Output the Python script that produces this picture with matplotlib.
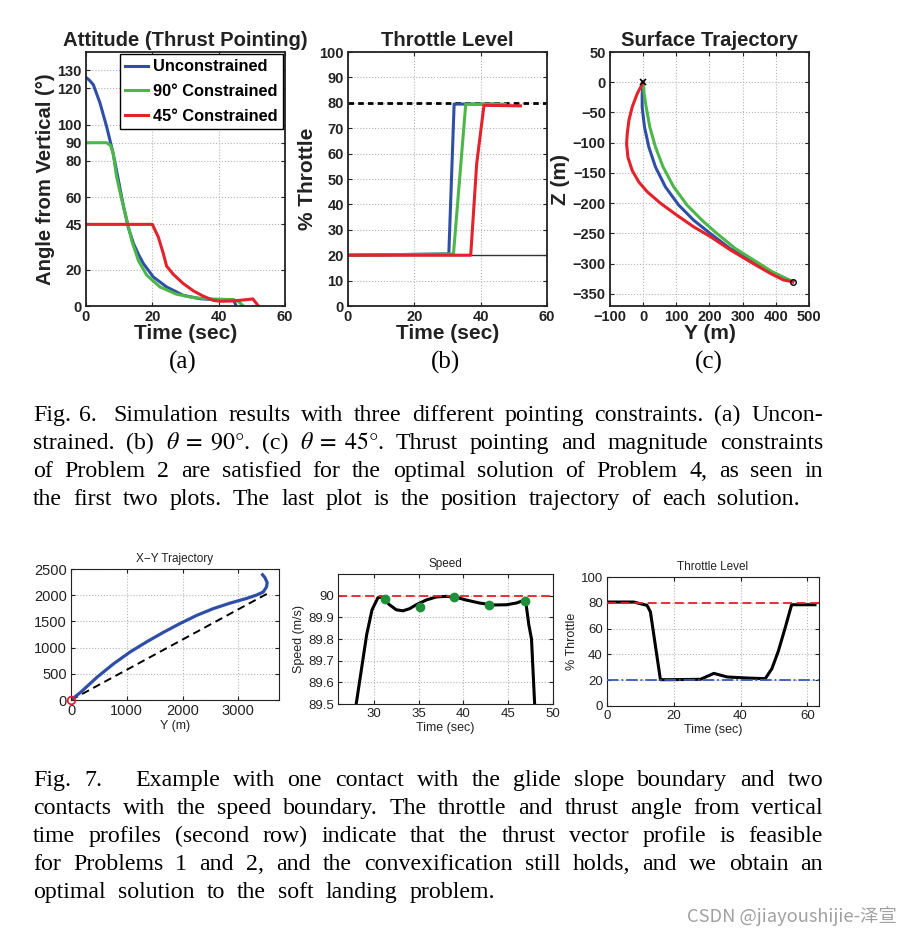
import numpy as np
import matplotlib
matplotlib.use("Agg")
import matplotlib.pyplot as plt

W, H = 912, 938
SANS = "Liberation Sans"
SERIF = "Liberation Serif"
plt.rcParams["mathtext.fontset"] = "stix"

BLUE = "#2f4fa6"
GREEN = "#4cb748"
RED = "#e3222b"

# ---- Fig. 6 (a) attitude, angle from vertical (deg) vs time (s)
t_unc = [0, 1, 2.2, 4.2, 6.2, 8.2, 9.7, 11.3, 12.8, 14.3, 15.8, 17.3, 20.3, 24.3, 29.3, 34.4, 38.4, 44.4, 45.3]
a_unc = [126, 124.5, 122, 112, 99, 84, 70, 55, 43, 34.5, 28.5, 23.4, 16, 10.5, 5.9, 4, 3.5, 3.5, 0]
t_90 = [0, 6.2, 7.4, 8.2, 9.2, 10.8, 12.3, 13.8, 15.8, 18.3, 22.3, 27.3, 32.4, 37.4, 44.4, 45.9, 47.4]
a_90 = [90, 90, 88.5, 84, 71.4, 58.5, 47.4, 36, 25, 17, 10.5, 6.5, 4.6, 3.9, 3.5, 2.6, 0]
t_45 = [0, 20, 21.8, 23.3, 24.3, 26.3, 29.3, 32.4, 35.4, 38.4, 40.4, 44.4, 48.4, 50.3, 52]
a_45 = [45, 45, 38, 29, 22, 17.5, 12.4, 8.3, 5.4, 3.1, 2.6, 2.8, 3.5, 3.9, 0]
att_ticks = [0, 20, 45, 60, 80, 90, 100, 120, 130]

# ---- Fig. 6 (b) throttle (%)
thr_t_unc = [0, 30.4, 32, 45]
thr_unc = [20, 20.5, 79.5, 79.5]
thr_t_90 = [0, 31.8, 35.5, 47.4]
thr_90 = [20, 20.5, 79.5, 79.5]
thr_t_45 = [0, 37, 38.8, 41, 52]
thr_45 = [20, 20, 56, 79, 78.8]

# ---- Fig. 6 (c) surface trajectory, Y (m) / Z (m)
y_unc = [0, -3, -3, 4, 17, 37, 67, 107, 152, 202, 262, 323, 383, 451]
z_unc = [0, -19, -41, -74, -107, -140, -173, -203, -228, -250, -275, -294, -313, -330]
y_90 = [0, 3, 9, 20, 37, 60, 92, 132, 177, 222, 278, 333, 388, 451]
z_90 = [0, -19, -41, -74, -107, -140, -173, -203, -228, -250, -275, -294, -313, -330]
y_45 = [0, -18, -33, -43, -48, -50, -46, -33, -13, 12, 52, 102, 152, 202, 262, 323, 383, 423, 451]
z_45 = [0, -19, -41, -63, -85, -102, -124, -146, -165, -181, -200, -220, -239, -255, -277, -297, -316, -327, -330]

# ---- Fig. 7 X-Y trajectory (m)
xy_y = [0, 167, 465, 763, 1061, 1359, 1658, 1956, 2254, 2552, 2850, 3148, 3327, 3447, 3506, 3518, 3476, 3435]
xy_x = [0, 142, 433, 691, 917, 1111, 1292, 1460, 1615, 1744, 1848, 1938, 2003, 2061, 2158, 2241, 2338, 2390]
glide_y = [0, 3520]
glide_x = [0, 2030]

# ---- Fig. 7 speed (m/s)
sp_t = [28.03, 28.58, 29.2, 29.8, 30.45, 30.8, 31.2, 31.75, 32.5, 33.24, 33.99, 34.73, 35.85, 36.96,
        38.1, 39.2, 40.3, 41.8, 43.3, 44.8, 45.9, 46.65, 46.95, 47.3, 47.6, 47.95]
sp_v = [89.5, 89.65, 89.82, 89.935, 89.99, 89.994, 89.98, 89.958, 89.935, 89.93, 89.94, 89.958, 89.98, 89.994,
        89.997, 89.992, 89.98, 89.966, 89.957, 89.958, 89.966, 89.977, 89.975, 89.866, 89.80, 89.5]
dot_t = [31.2, 35.1, 38.94, 42.85, 46.83]
dot_v = [89.985, 89.948, 89.994, 89.958, 89.977]

# ---- Fig. 7 throttle (%)
th_t = [0, 8, 12, 13, 16, 19, 28, 32, 36, 41.9, 47.4, 49.4, 51.3, 53.3, 55.3, 62.3]
th_v = [80.6, 80.6, 78, 73, 20.4, 20.4, 20.7, 25.3, 22.5, 21.7, 21.2, 29, 42.4, 60, 78.5, 78.5]

fig = plt.figure(figsize=(W / 100, H / 100), dpi=100)


def px_axes(x0, y0, x1, y1):
    return fig.add_axes([x0 / W, 1 - y1 / H, (x1 - x0) / W, (y1 - y0) / H])


def style(ax, bold, fs):
    ax.grid(True, linestyle=":", color="#b5b5b5", linewidth=0.8)
    ax.set_axisbelow(True)
    ax.tick_params(direction="in", top=True, right=True, labelsize=fs, pad=3,
                   length=3, colors="#222222")
    for s in ax.spines.values():
        s.set_linewidth(1.3 if bold else 0.8)
        s.set_color("#222222")
    for lab in ax.get_xticklabels() + ax.get_yticklabels():
        lab.set_family(SANS)
        if bold:
            lab.set_fontweight("bold")


top_kw = dict(family=SANS, fontweight="bold", color="#222222")

# (a)
ax = px_axes(86, 52, 285, 306)
ax.plot(t_unc, a_unc, color=BLUE, lw=2.2, label="Unconstrained")
ax.plot(t_90, a_90, color=GREEN, lw=2.2, label="90° Constrained")
ax.plot(t_45, a_45, color=RED, lw=2.2, label="45° Constrained")
ax.set_xlim(0, 60)
ax.set_ylim(0, 140)
ax.set_xticks([0, 20, 40, 60])
ax.set_yticks(att_ticks)
style(ax, True, 10.5)
ax.set_title("Attitude (Thrust Pointing)", fontsize=14.6, pad=4, **top_kw)
ax.set_xlabel("Time (sec)", fontsize=15, labelpad=0, **top_kw)
ax.set_ylabel("Angle from Vertical (°)", fontsize=14.6, labelpad=2, **top_kw)
leg = ax.legend(loc="upper right", bbox_to_anchor=(1.0, 1.0), borderaxespad=0.15,
                prop=dict(family=SANS, weight="bold", size=11.8), handlelength=1.4,
                handletextpad=0.3, labelspacing=0.6, fancybox=False, framealpha=1,
                borderpad=0.3)
leg.get_frame().set_edgecolor("black")
leg.get_frame().set_linewidth(1.0)

# (b)
ax = px_axes(348, 52, 547, 306)
ax.axhline(20, color="#333333", lw=1.0, zorder=1.5)
ax.axhline(80, color="black", lw=2, linestyle=(0, (2, 1.5)), zorder=1.6)
ax.plot(thr_t_unc, thr_unc, color=BLUE, lw=2.2)
ax.plot(thr_t_90, thr_90, color=GREEN, lw=2.2)
ax.plot(thr_t_45, thr_45, color=RED, lw=2.2)
ax.set_xlim(0, 60)
ax.set_ylim(0, 100)
ax.set_xticks([0, 20, 40, 60])
ax.set_yticks(range(0, 101, 10))
style(ax, True, 10.5)
ax.set_title("Throttle Level", fontsize=14.6, pad=4, **top_kw)
ax.set_xlabel("Time (sec)", fontsize=15, labelpad=0, **top_kw)
ax.set_ylabel("% Throttle", fontsize=15, labelpad=2, **top_kw)

# (c)
ax = px_axes(610, 52, 809, 306)
ax.plot(y_unc, z_unc, color=BLUE, lw=2.2)
ax.plot(y_90, z_90, color=GREEN, lw=2.2)
ax.plot(y_45, z_45, color=RED, lw=2.2)
ax.plot([0], [0], "x", color="black", ms=4, mew=1.2)
ax.plot([y_45[-1]], [z_45[-1]], "o", mfc="none", mec="black", ms=4, mew=1.0)
ax.set_xlim(-100, 500)
ax.set_ylim(-370, 50)
ax.set_xticks(range(-100, 501, 100))
ax.set_yticks(range(-350, 51, 50))
style(ax, True, 10.5)
ax.set_title("Surface Trajectory", fontsize=14.6, pad=4, **top_kw)
ax.set_xlabel("Y (m)", fontsize=15, labelpad=0, **top_kw)
ax.set_ylabel("Z (m)", fontsize=15, labelpad=2, **top_kw)

for lab, xc in [("(a)", 183), ("(b)", 446), ("(c)", 709)]:
    fig.text(xc / W, 1 - 362 / H, lab, family=SERIF, fontsize=18, ha="center", va="center")

bot_kw = dict(family=SANS, color="#222222")

# X-Y trajectory
ax = px_axes(71, 569, 279, 700)
ax.plot(glide_y, glide_x, color="black", lw=1.4, linestyle=(0, (4, 2.5)))
ax.plot(xy_y, xy_x, color=BLUE, lw=2.3)
ax.plot([0], [0], "o", mfc="none", mec=RED, ms=5.5, mew=1.3, clip_on=False, zorder=5)
ax.set_xlim(0, 3730)
ax.set_ylim(0, 2500)
ax.set_xticks([0, 1000, 2000, 3000])
ax.set_yticks(range(0, 2501, 500))
style(ax, False, 10.5)
ax.set_title("X−Y Trajectory", fontsize=8.5, pad=5, **bot_kw)
ax.set_xlabel("Y (m)", fontsize=9, labelpad=1, **bot_kw)

# Speed
ax = px_axes(338, 574, 553, 704)
ax.plot(sp_t, sp_v, color="black", lw=2.2)
ax.axhline(90, color=RED, lw=1.3, linestyle=(0, (5, 2.5)))
ax.plot(dot_t, dot_v, "o", color="#1e8f3a", ms=6, zorder=4)
ax.set_xlim(26, 50)
ax.set_ylim(89.5, 90.1)
ax.set_xticks([30, 35, 40, 45, 50])
ax.set_yticks([89.5, 89.6, 89.7, 89.8, 89.9, 90])
ax.set_yticklabels(["89.5", "89.6", "89.7", "89.8", "89.9", "90"])
style(ax, False, 9.5)
ax.set_title("Speed", fontsize=8.5, pad=5, **bot_kw)
ax.set_xlabel("Time (sec)", fontsize=9, labelpad=1, **bot_kw)
ax.set_ylabel("Speed (m/s)", fontsize=9, labelpad=2, **bot_kw)

# Throttle
ax = px_axes(607, 577, 819, 706)
ax.plot(th_t, th_v, color="black", lw=2.2)
ax.axhline(80, color=RED, lw=1.3, linestyle=(0, (5, 2.5)), zorder=3)
ax.axhline(20, color="#3a5bb5", lw=1.3, linestyle="-.", zorder=3)
ax.set_xlim(0, 63.5)
ax.set_ylim(0, 100)
ax.set_xticks([0, 20, 40, 60])
ax.set_yticks(range(0, 101, 20))
style(ax, False, 9.5)
ax.set_title("Throttle Level", fontsize=8.5, pad=5, **bot_kw)
ax.set_xlabel("Time (sec)", fontsize=9, labelpad=1, **bot_kw)
ax.set_ylabel("% Throttle", fontsize=9, labelpad=2, **bot_kw)

# ---- captions
CAP_FS = 17.2
renderer = fig.canvas.get_renderer()


def justify(words, x0, x1, y, extra=None):
    extra = extra or {}
    txts = [fig.text(0, 1 - y / H, w, family=SERIF, fontsize=CAP_FS, va="baseline") for w in words]
    ws = [t.get_window_extent(renderer).width for t in txts]
    gap = (x1 - x0 - sum(ws) - sum(extra.values())) / (len(words) - 1)
    x = x0
    for i, (t, w) in enumerate(zip(txts, ws)):
        t.set_x(x / W)
        x += w + gap + extra.get(i, 0)


XL, XR = 33, 823
justify(["Fig.", "6."] + "Simulation results with three different pointing constraints. (a) Uncon-".split(),
        XL, XR, 421, extra={0: -3, 1: 6})
justify(["strained.", "(b)", r"$\theta\;=\;90°$.", "(c)", r"$\theta\;=\;45°$.", "Thrust", "pointing",
         "and", "magnitude", "constraints"], XL, XR, 449)
justify("of Problem 2 are satisfied for the optimal solution of Problem 4, as seen in".split(), XL, XR, 477)
justify("the first two plots. The last plot is the position trajectory of each solution.".split(), XL, 800, 505)

justify(["Fig.", "7."] + "Example with one contact with the glide slope boundary and two".split(),
        XL, XR, 786, extra={1: 20})
justify("contacts with the speed boundary. The throttle and thrust angle from vertical".split(), XL, XR, 814)
justify("time profiles (second row) indicate that the thrust vector profile is feasible".split(), XL, XR, 842)
justify("for Problems 1 and 2, and the convexification still holds, and we obtain an".split(), XL, XR, 870)
justify("optimal solution to the soft landing problem.".split(), XL, 495, 898)

fig.text(897 / W, 1 - 916 / H, "CSDN @jiayoushijie-泽宣", family=["Noto Sans CJK SC", "DejaVu Sans"],
         fontsize=13.2, color="#a0a0a0", ha="right", va="center")

fig.savefig("out.png", dpi=100)
